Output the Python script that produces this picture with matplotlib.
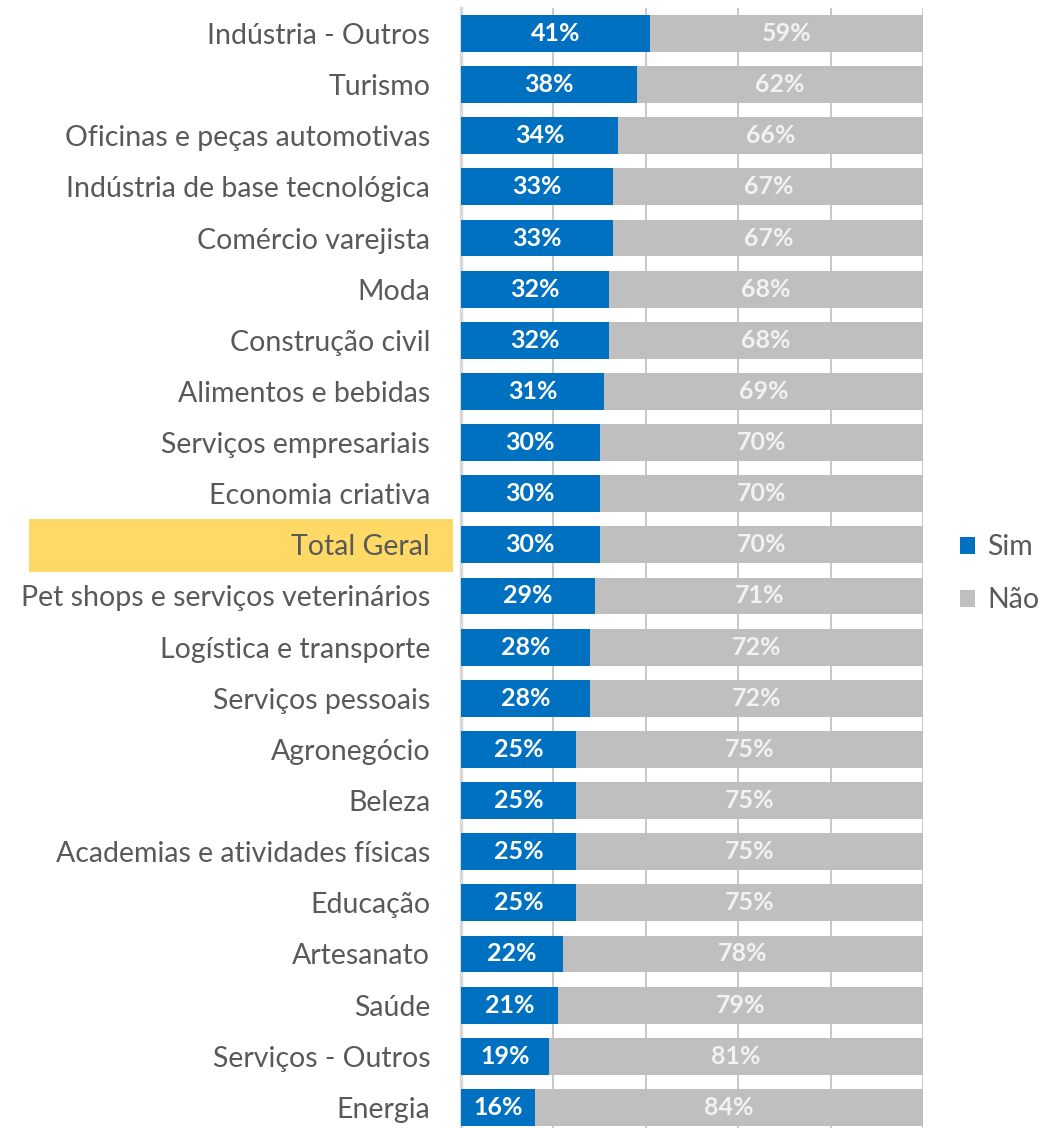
import matplotlib
matplotlib.use("Agg")
import matplotlib.pyplot as plt
from matplotlib.patches import Patch, Rectangle

categories = [
    "Indústria - Outros", "Turismo", "Oficinas e peças automotivas",
    "Indústria de base tecnológica", "Comércio varejista", "Moda",
    "Construção civil", "Alimentos e bebidas", "Serviços empresariais",
    "Economia criativa", "Total Geral", "Pet shops e serviços veterinários",
    "Logística e transporte", "Serviços pessoais", "Agronegócio", "Beleza",
    "Academias e atividades físicas", "Educação", "Artesanato", "Saúde",
    "Serviços - Outros", "Energia",
]
sim = [41, 38, 34, 33, 33, 32, 32, 31, 30, 30, 30, 29, 28, 28, 25, 25, 25, 25, 22, 21, 19, 16]
nao = [59, 62, 66, 67, 67, 68, 68, 69, 70, 70, 70, 71, 72, 72, 75, 75, 75, 75, 78, 79, 81, 84]
highlight = "Total Geral"

BLUE = "#0070C0"
GRAY = "#BFBFBF"
TEXT = "#595959"
FONT = ["Lato", "DejaVu Sans"]

fig = plt.figure(figsize=(10.41, 11.28), dpi=100)
ax = fig.add_axes([0.4426, -0.0044, 0.4444, 0.9974])

y = list(range(len(categories)))
ax.barh(y, sim, height=0.72, color=BLUE, label="Sim", zorder=3)
ax.barh(y, nao, left=sim, height=0.72, color=GRAY, label="Não", zorder=3)

for i, (s, n) in enumerate(zip(sim, nao)):
    ax.text(s / 2, i, f"{s}%", ha="center", va="center", color="white",
            fontsize=18, fontweight="bold", family=FONT, zorder=4)
    ax.text(s + n / 2, i, f"{n}%", ha="center", va="center", color="#F2F2F2",
            fontsize=18, fontweight="bold", family=FONT, zorder=4)

ax.set_xlim(0, 100)
ax.set_ylim(len(categories) - 0.5, -0.5)
ax.set_xticks([0, 20, 40, 60, 80, 100])
ax.xaxis.grid(True, color="#BFBFBF", linewidth=1.2, zorder=0)
ax.tick_params(axis="x", length=0, labelbottom=False)
ax.tick_params(axis="y", length=0, pad=22)
ax.set_yticks(y)
ax.set_yticklabels(categories, fontsize=20.5, color=TEXT, family=FONT)
for sp in ["top", "right", "bottom"]:
    ax.spines[sp].set_visible(False)
ax.spines["left"].set_color("#D9D9D9")
ax.spines["left"].set_linewidth(2.5)

# yellow highlight behind the "Total Geral" label
hi = categories.index(highlight)
box = Rectangle((-0.9332, hi - 0.51), 0.9166, 1.035, transform=ax.get_yaxis_transform(),
                facecolor="#FFD966", edgecolor="none", clip_on=False, zorder=-1)
ax.add_patch(box)

handles = [Patch(facecolor=BLUE), Patch(facecolor=GRAY)]
leg = ax.legend(handles, ["Sim", "Não"], loc="center left", bbox_to_anchor=(1.079, 0.497),
                frameon=False, handlelength=0.53, handleheight=0.53, handletextpad=0.42,
                labelspacing=0.95, borderpad=0, borderaxespad=0,
                prop={"family": FONT, "size": 20.5})
for t in leg.get_texts():
    t.set_color(TEXT)

fig.savefig("out.png", dpi=100)
